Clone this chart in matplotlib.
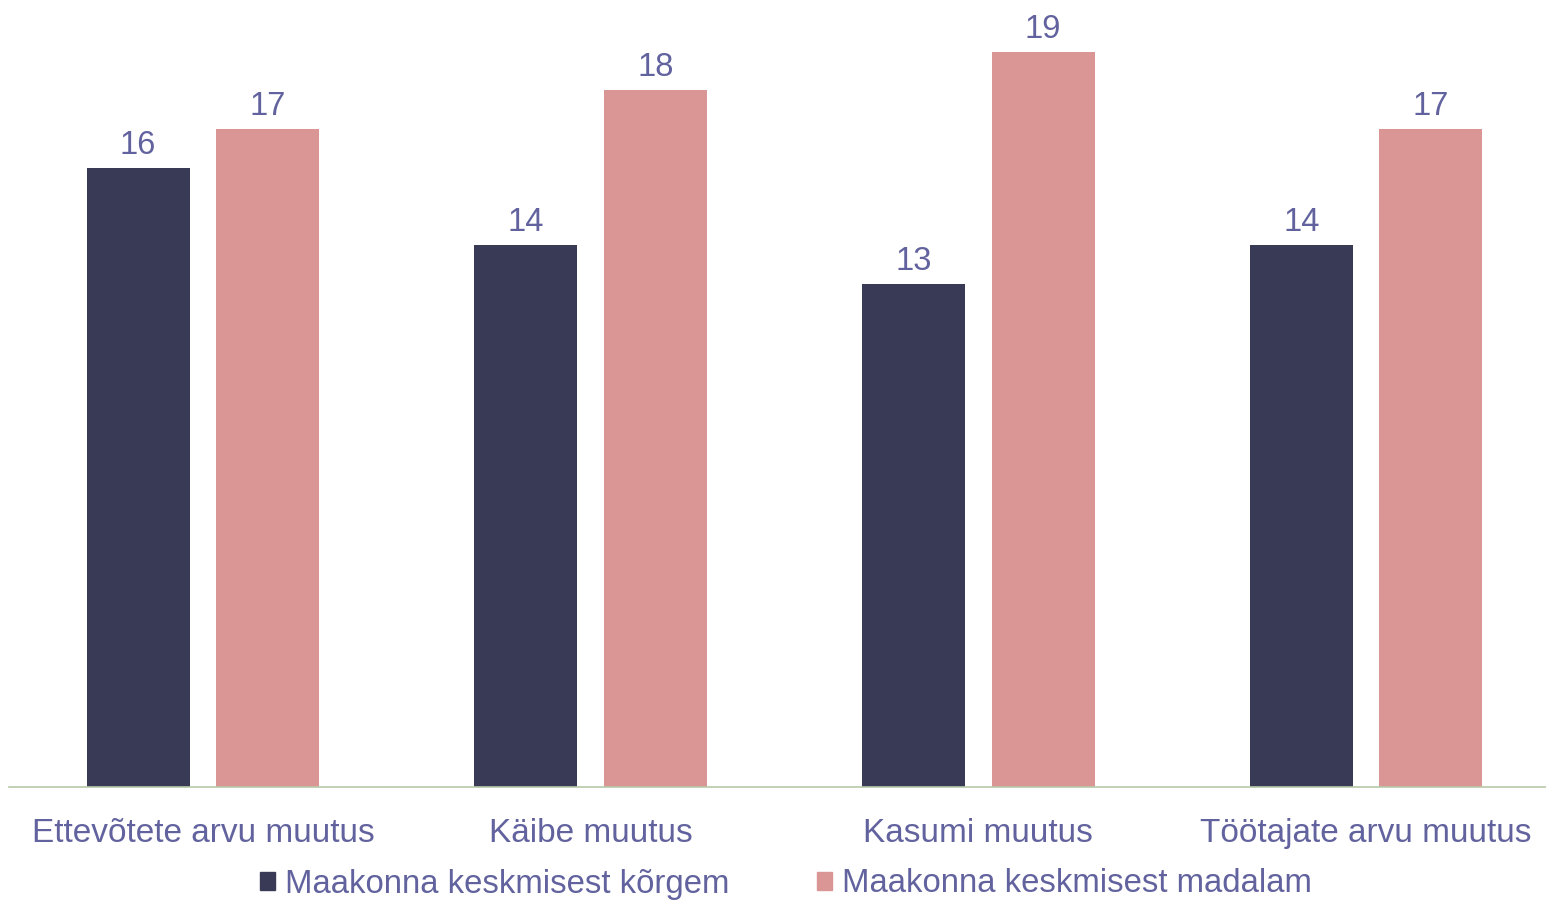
import matplotlib.pyplot as plt
import numpy as np
from matplotlib.patches import Patch

categories = ["Ettevõtete arvu muutus", "Käibe muutus", "Kasumi muutus", "Töötajate arvu muutus"]
higher = [16, 14, 13, 14]
lower = [17, 18, 19, 17]
series_names = ["Maakonna keskmisest kõrgem", "Maakonna keskmisest madalam"]

DARK = "#383a56"
PINK = "#da9695"
TEXT = "#62639e"
AXIS = "#b8caa8"

plt.rcParams["font.family"] = ["Liberation Sans", "DejaVu Sans"]

W, H = 1546, 900
fig = plt.figure(figsize=(W / 100, H / 100), dpi=100)
# axes in pixel coordinates: left 9, baseline at y=787, spans to top
left, right, base = 9, 1560, 787
ax = fig.add_axes([left / W, (H - base) / H, (right - left) / W, base / H])

x = np.arange(len(categories))
bw = 0.266
off = 0.167
b1 = ax.bar(x - off, higher, bw, color=DARK, label=series_names[0])
b2 = ax.bar(x + off, lower, bw, color=PINK, label=series_names[1])

for bars in (b1, b2):
    ax.bar_label(bars, padding=5, fontsize=23.5, color=TEXT)

ax.set_xlim(-0.5, 3.5)
ax.set_ylim(0, base / 38.7)
ax.set_xticks(x)
ax.set_xticklabels(categories, fontsize=24, color=TEXT)
ax.tick_params(axis="x", length=0, pad=22)
ax.set_yticks([])
for side in ("top", "right", "left"):
    ax.spines[side].set_visible(False)
ax.spines["bottom"].set_color(AXIS)
ax.spines["bottom"].set_linewidth(1.2)

handles = [Patch(color=DARK), Patch(color=PINK)]
fig.legend(handles, series_names, loc="center", bbox_to_anchor=(786 / W, (H - 884) / H),
           ncol=2, frameon=False, fontsize=23.7, labelcolor=TEXT,
           handlelength=0.45, handleheight=0.45, handletextpad=0.3, columnspacing=2.67)

fig.savefig("out.png", dpi=100)
